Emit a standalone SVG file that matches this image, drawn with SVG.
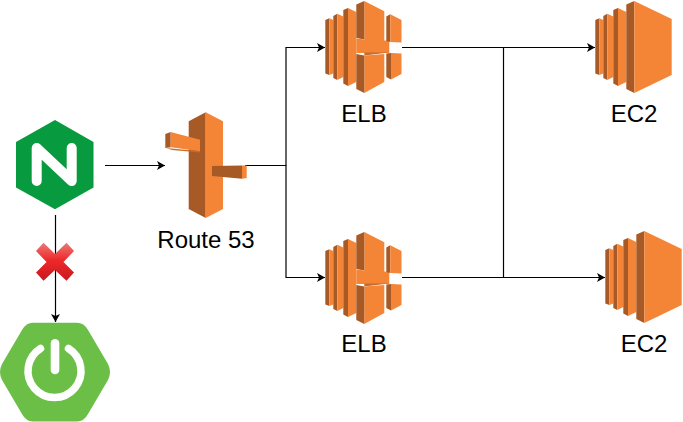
<svg xmlns="http://www.w3.org/2000/svg" width="683" height="422" viewBox="0 0 683 422">
<style>
.l{font-family:"Liberation Sans",Arial,sans-serif;font-size:24px;text-anchor:middle;fill:#000}
.c{fill:none;stroke:#000;stroke-width:1.2}
.o{fill:#f58536}.d{fill:#a85a26}.s{fill:#c56c2d}
</style>
<defs>
<marker id="a" markerUnits="userSpaceOnUse" markerWidth="9" markerHeight="10" refX="8" refY="4.5" orient="auto"><path d="M0 0L8 4.500L0 9L2 4.500Z" fill="#000"/></marker>
<linearGradient id="x" x1="0" y1="0" x2="0" y2="1"><stop offset="0" stop-color="#ea7a78"/><stop offset=".45" stop-color="#ee2a2a"/><stop offset="1" stop-color="#c9171f"/></linearGradient>
<g id="bars">
<path class="d" d="M.3 19L4.300 17.300V74L.3 72.500Z"/><path class="o" d="M4.300 17.300L8.300 19V72.500L4.300 74Z"/>
<path class="d" d="M8.300 15L12.300 12.700V79L8.300 77Z"/><path class="o" d="M12.300 12.700L18.300 15.500V76L12.300 79Z"/>
<path class="d" d="M18.300 9L23 7V85L18.300 82.500Z"/><path class="o" d="M23 7L31.300 11V81L23 85Z"/>
</g>
<g id="elb">
<use href="#bars"/>
<path class="o" d="M39.300 0L59.300 10.300V40H39.300Z"/>
<path class="d" d="M31.300 3.500L39.300 0V38.500L31.300 37Z"/>
<path class="o" d="M31.300 37.500L39.300 38.500L59.300 39.500L64.300 40V52H31.300Z"/>
<path class="s" d="M39.300 54.500L60 52L64.300 51.500H39.300Z"/>
<path class="o" d="M39.300 54.500L59.300 53V81L39.300 92Z"/>
<path class="d" d="M31.300 53L39.300 54.500V92L31.300 88Z"/>
<path class="d" d="M61.300 15.500L65.300 13.300V41L61.300 40Z"/><path class="o" d="M65.300 13.300L76.500 19V41.500L65.300 41Z"/>
<path class="d" d="M61.300 52.500L66 52V78.500L61.300 76Z"/><path class="o" d="M66 52L76.500 52.500V73L66 78.500Z"/>
</g>
<g id="ec2">
<use href="#bars"/>
<path class="d" d="M31.300 3.500L39.300 0V92L31.300 88Z"/>
<path class="o" d="M39.300 0L76.700 18V74L39.300 92Z"/>
</g>
</defs>
<rect width="683" height="422" fill="#fff"/>
<g id="connectors">
<path class="c" d="M105 165.500H165" marker-end="url(#a)"/>
<path class="c" d="M245 165.500H286V47.500H325" marker-end="url(#a)"/>
<path class="c" d="M286 165.500V277.500H325" marker-end="url(#a)"/>
<path class="c" d="M402 47.500H595" marker-end="url(#a)"/>
<path class="c" d="M402 277.500H605" marker-end="url(#a)"/>
<path class="c" d="M503.500 47.500V277.500"/>
<path class="c" d="M55.500 215V322" marker-end="url(#a)"/>
</g>
<g id="nginx">
<path d="M55 120L93.500 142V187.500L55 209.300L16 187.500V142Z" fill="#079a3e"/>
<path d="M36.700 181V148L71.700 181V148" fill="none" stroke="#fff" stroke-width="10" stroke-linecap="round" stroke-linejoin="round"/>
</g>
<g id="cross">
<path d="M43.500 242.700L55 254L66.500 242.700L74 251L63.500 262L74 272.500L66.500 280.700L55 270L43.500 280.700L36 272.500L46.500 262L36 251Z" fill="url(#x)"/>
</g>
<g id="spring">
<path d="M33 322.700H77Q84 322.700 88 330L108 364Q112 372 108 380L88 414Q84 421.500 77 421.500H33Q26 421.500 22 414L2 380Q-2 372 2 364L22 330Q26 322.700 33 322.700Z" fill="#6bbf47"/>
<path d="M40.500 348.500A26.500 26.500 0 1 0 68.500 348.500" fill="none" stroke="#fff" stroke-width="7.500" stroke-linecap="round"/>
<path d="M55 343.300V370" fill="none" stroke="#fff" stroke-width="8.600" stroke-linecap="round"/>
</g>
<g id="route53">
<path class="d" d="M188.700 121.300L205.700 112.300V218L188.700 209Z"/>
<path class="o" d="M205.700 112.300L223 121.300V209L205.700 218Z"/>
<path class="s" d="M166 148L200 151.300V152.500L172 150Z"/>
<path class="d" d="M165.300 134L170.700 132V147.300L165.300 148Z"/>
<path class="o" d="M170.700 132L200 139.700V151.300L170.700 147.300Z"/>
<path class="d" d="M212 166L242 165.500V178.700L212 176Z"/>
<path class="o" d="M242 165.500H246.700V178L242 178.700Z"/>
</g>
<g id="elb1"><use href="#elb" x="325" y="1"/></g>
<g id="elb2"><use href="#elb" x="325" y="232"/></g>
<g id="ec2a"><use href="#ec2" x="595" y="1"/></g>
<g id="ec2b"><use href="#ec2" x="605" y="231"/></g>
<text class="l" x="206" y="248">Route 53</text>
<text class="l" x="364" y="122">ELB</text>
<text class="l" x="364" y="352">ELB</text>
<text class="l" x="634" y="122">EC2</text>
<text class="l" x="644" y="352">EC2</text>
</svg>
